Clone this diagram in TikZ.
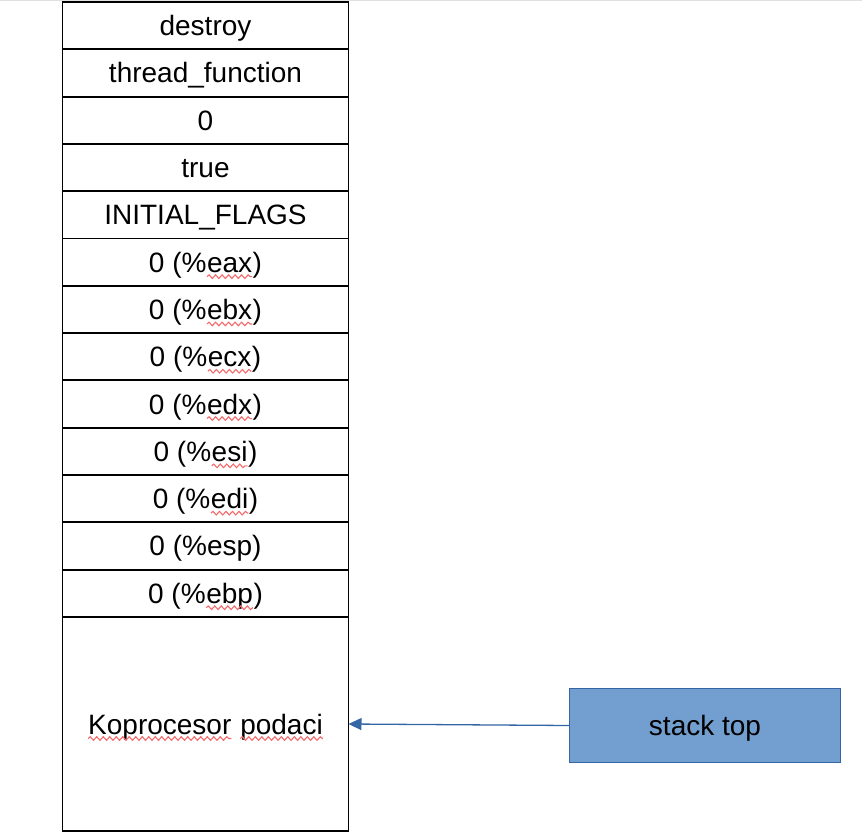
\documentclass[tikz,border=0pt]{standalone}
\usepackage{fontspec}
\setmainfont{Liberation Sans}
\usetikzlibrary{arrows.meta,decorations.pathmorphing}
\definecolor{boxfill}{HTML}{729FCF}
\definecolor{boxline}{HTML}{3465A4}
\definecolor{squigc}{HTML}{F46A6A}
\newcommand\sq[1]{\tikz[baseline=(w.base)]{%
  \node[draw=none,inner sep=0pt,outer sep=0pt,minimum width=0pt,minimum height=0pt,
        text height={},text depth={},anchor=base] (w) at (0,0) {#1};%
  \draw[squigc,line width=1.1pt,decorate,decoration={snake,amplitude=1.8pt,segment length=6.5pt}]
    ([yshift=-4.5pt]w.base west) -- ([yshift=-4.5pt]w.base east);}}
\begin{document}
\begin{tikzpicture}[x=1pt,y=-1pt,
  cell/.style={draw=black,line width=1.9pt,minimum width=286pt,minimum height=47.3pt,
    inner sep=0pt,outer sep=0pt,text height=25pt,text depth=5pt,
    font=\fontsize{28}{33}\selectfont},
  topbox/.style={draw=boxline,fill=boxfill,line width=1pt,minimum width=271pt,minimum height=74.5pt,
    inner sep=0pt,text height=25pt,text depth=5pt,font=\fontsize{28}{33}\selectfont},
  link/.style={draw=boxline,line width=1.3pt,-{Triangle[length=13pt,width=12pt]}}]
\useasboundingbox (0,0) rectangle (862,837);
\draw[black!12,line width=1pt] (0,0.5) -- (862,0.5);
\foreach \i/\t in {0/destroy,1/thread\_function,2/0,3/true,4/INITIAL\_FLAGS,
  5/0 (\%\sq{eax}),6/0 (\%\sq{ebx}),7/0 (\%\sq{ecx}),8/0 (\%\sq{edx}),9/0 (\%\sq{esi}),
  10/0 (\%\sq{edi}),11/0 (\%esp),12/0 (\%\sq{ebp})}{
  \node[cell] (c\i) at (205.5,{2+47.3*\i+23.65}) {\t};
}
\node[cell,minimum height=214pt] (kop) at (205.5,724) {\sq{Koprocesor} \sq{podaci}};
\node[topbox] (top) at (705,725.5) {stack top};
\draw[link] (top.west) -- (kop.east);
\end{tikzpicture}
\end{document}
